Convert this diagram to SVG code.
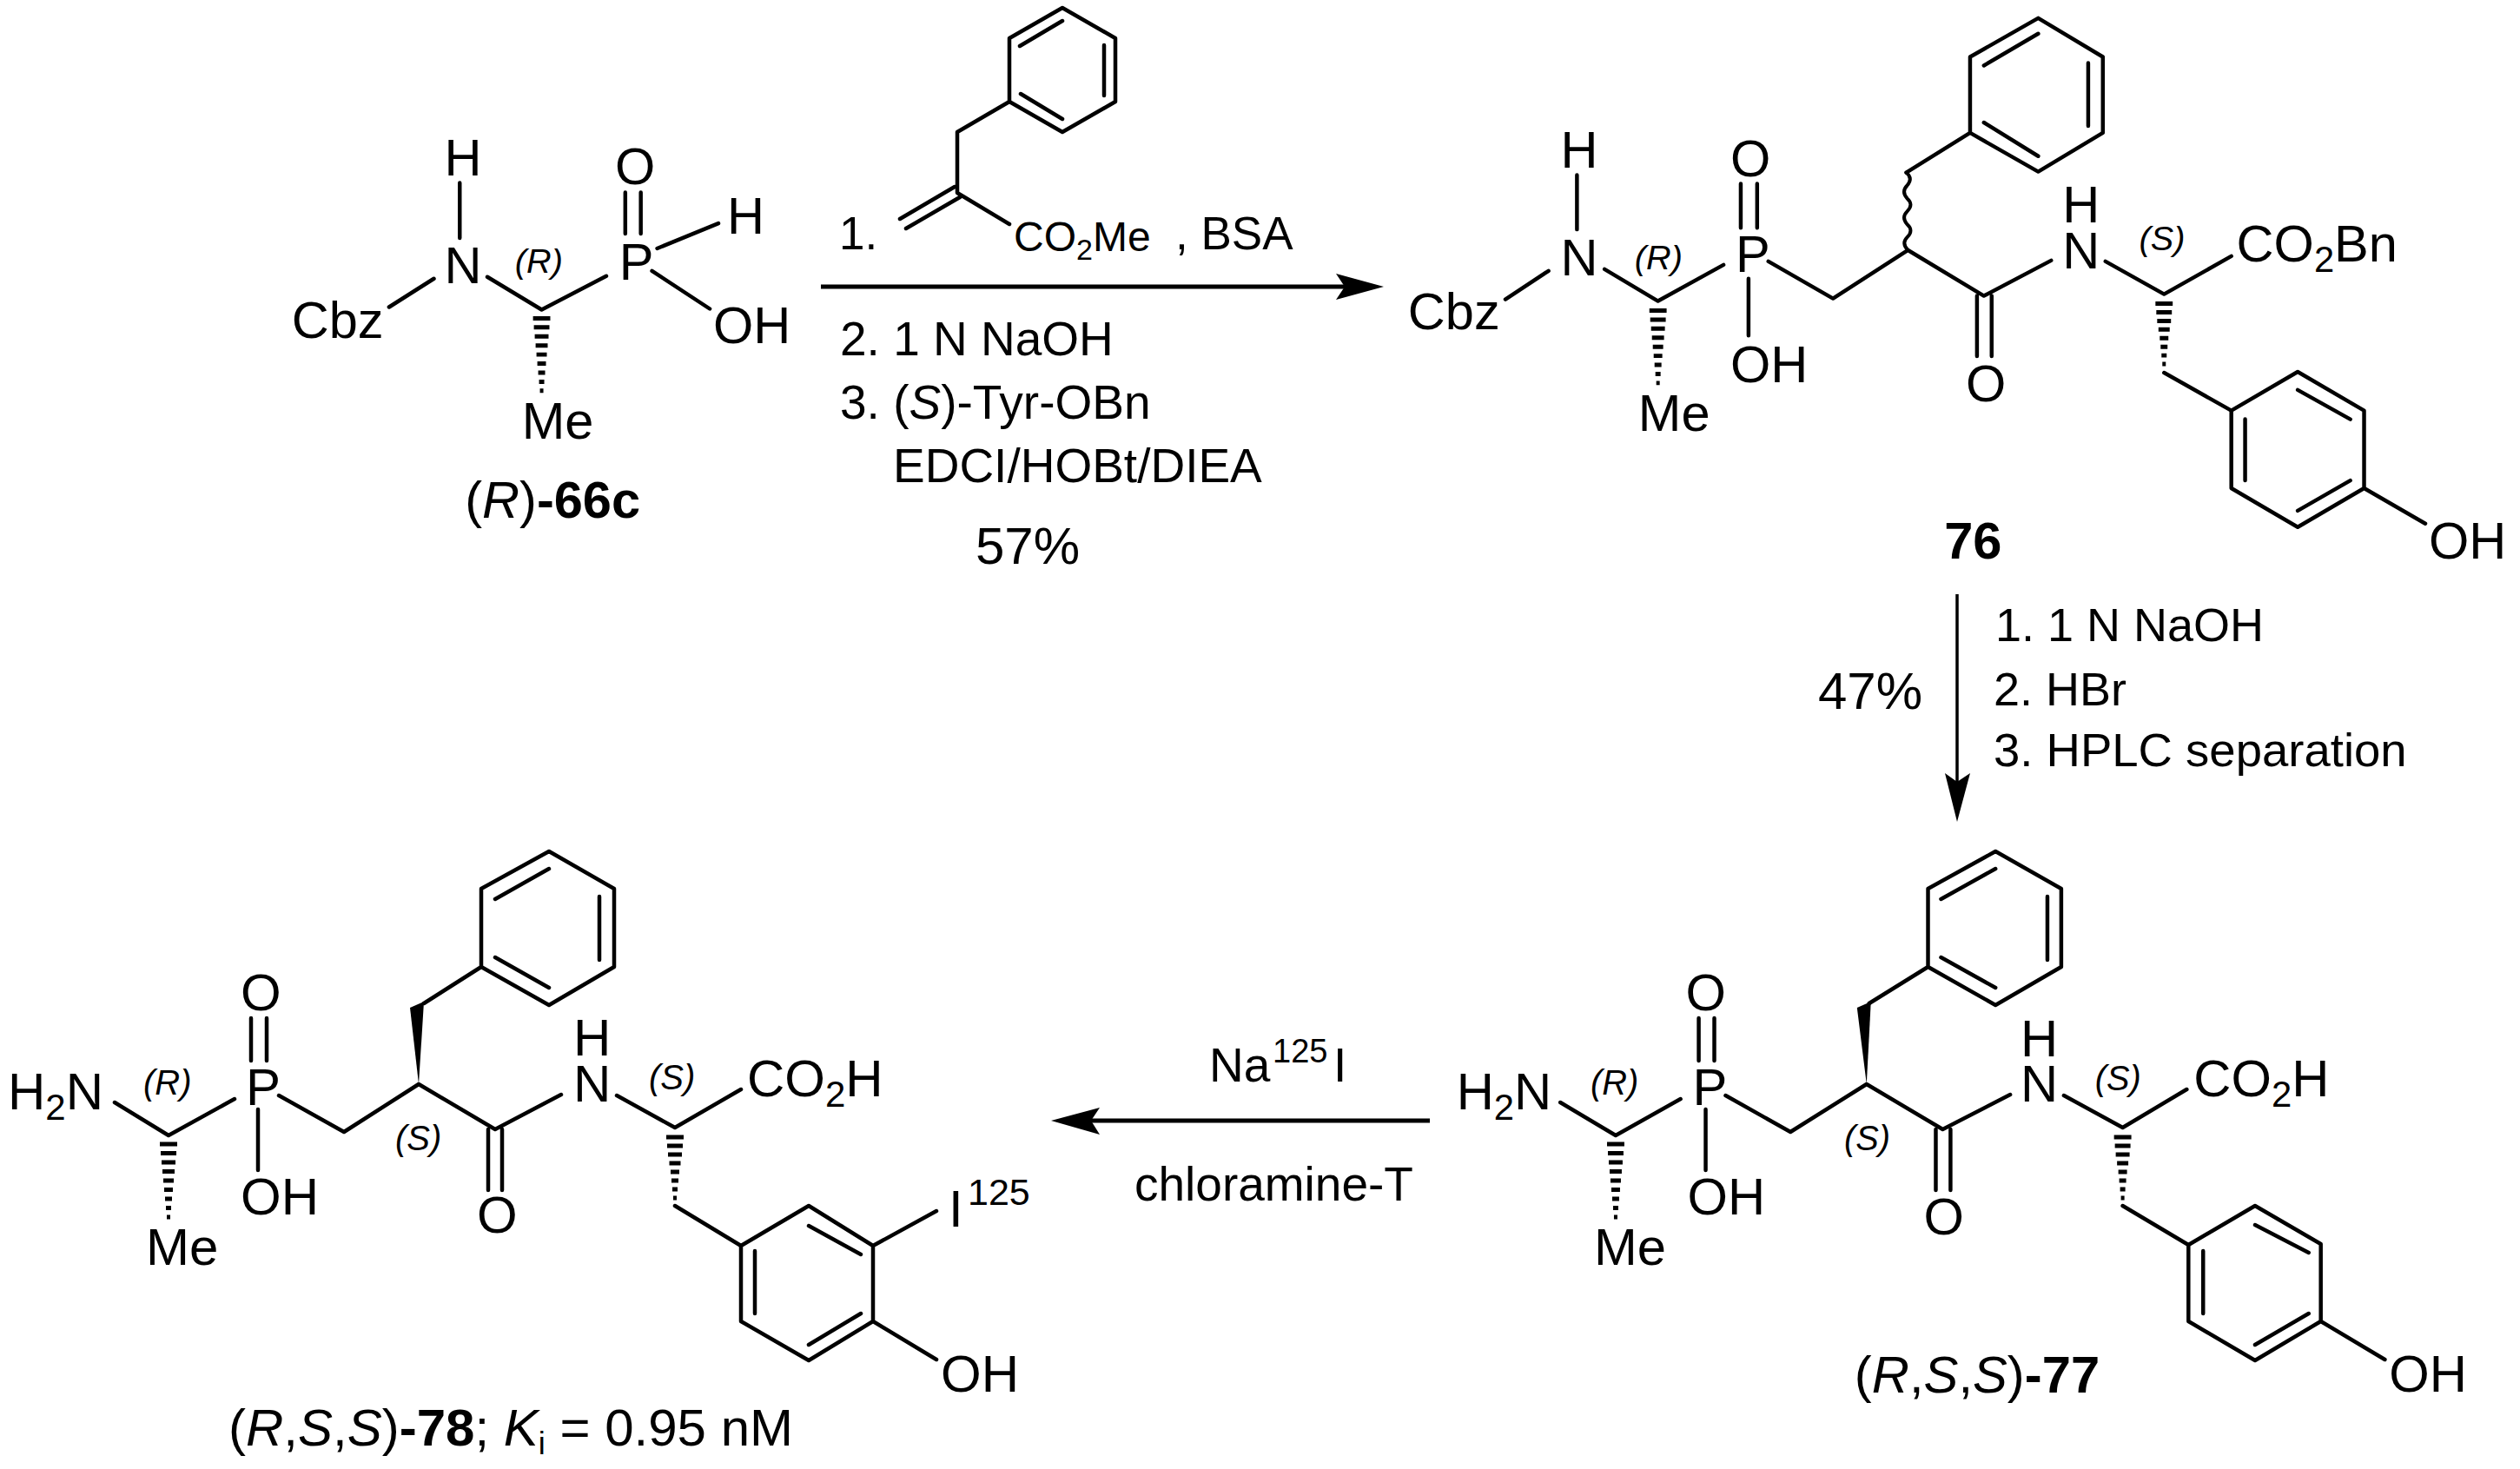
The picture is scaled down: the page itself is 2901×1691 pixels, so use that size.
<svg xmlns="http://www.w3.org/2000/svg" width="2901" height="1691" viewBox="0 0 2901 1691">
<style>
text{font-family:"Liberation Sans",Arial,sans-serif;fill:#000}
.a{font-size:60px}
.g{font-size:55px}
.c{font-size:48px}
.s{font-size:40px;font-style:italic}
.b{font-weight:bold}
.i{font-style:italic}
.bond{fill:none;stroke:#000;stroke-width:4.500;stroke-linecap:round;stroke-linejoin:round}
.hash{fill:none;stroke:#000;stroke-width:5}
.arrow{fill:none;stroke:#000;stroke-width:5}
</style>
<defs>
<path id="hash" d="M-10 0H10M-9 10.500H9M-8 21H8M-7 31.500H7M-6 42H6M-5 52.500H5M-4 63H4M-3 73.500H3M-2 84H2"/>
<path id="hash2" d="M-10 0H10M-9 10H9M-8 20H8M-6.500 30H6.500M-5 40H5M-4 50H4M-3 60H3M-2 70H2"/>
</defs>
<rect width="2901" height="1691" fill="#fff"/>

<g id="connectors">
<path class="arrow" d="M945 330H1550"/><path d="M1538 315L1593 330L1538 345L1548 330Z"/>
<path class="arrow" style="stroke-width:3.500" d="M2253 684V900"/><path d="M2239 890L2253 946L2268 890L2253 900Z"/>
<path class="arrow" d="M1646 1290H1250"/><path d="M1266 1275L1210 1290L1266 1306L1256 1290Z"/>
</g>

<g id="mol-66c" transform="translate(1.250,0) scale(.9925,.993)">
<path class="bond" d="M532 212V276M450 356L502 323M564 321L627 359L702 320M724 223V271M742 223V271M761 288L832 259M755 314L822 358"/>
<use href="#hash" class="hash" x="627" y="369"/>
<text class="a" x="514" y="203">H</text>
<text class="a" x="514" y="328">N</text>
<text class="a" x="337" y="392">Cbz</text>
<text class="a" x="717" y="324">P</text>
<text class="a" x="712" y="213">O</text>
<text class="a" x="842" y="271">H</text>
<text class="a" x="826" y="398">OH</text>
<text class="a" x="604" y="509">Me</text>
<text class="s" x="596" y="316">(R)</text>
<text class="a" x="538" y="600">(<tspan class="i">R</tspan>)<tspan class="b">-66c</tspan></text>
</g>

<g id="reagent-benzyl">
<path class="bond" d="M1223 9L1284 44V117L1223 152L1162 117V44ZM1174 53L1223 24M1271 52V110M1175 108L1223 137M1162 117L1102 152V222L1162 258M1099 215L1036 252M1105 227L1043 263"/>
</g>
<g id="reagents-1">
<text x="966" y="287" font-size="53">1.</text>
<text class="c" x="1167" y="289">CO<tspan font-size="34" dy="10">2</tspan><tspan dy="-10">Me</tspan></text>
<text x="1353" y="287" font-size="53">, BSA</text>
<text class="g" x="967" y="409">2. 1 N NaOH</text>
<text class="g" x="967" y="482">3. (<tspan class="i">S</tspan>)-Tyr-OBn</text>
<text class="g" x="1028" y="555">EDCI/HOBt/DIEA</text>
<text class="g" x="1123" y="649" style="font-size:60px">57%</text>
</g>

<g id="mol-76" transform="translate(12,0) scale(.9925,.993)">
<path class="bond" d="M2352 21L2427 66V154L2352 199L2273 154V66ZM2289 76L2352 39M2410 73V146M2289 142L2352 181M2273 154L2199 200"/>
<path class="bond" style="stroke-width:4" d="M2199 200q8 7 1 15q-7 7 0 15q8 7 0 15q-7 7 0 15q8 7 0 15q-7 7 1 15"/>
<path class="bond" d="M1817 203V266M1734 347L1784 314M1849 312L1911 349L1987 307M2007 213V264M2026 213V264M2016 323V389M2039 303L2114 346L2201 290L2289 343L2367 302M2281 343V413M2298 343V413M2430 303L2498 341L2576 297M2498 432L2576 476"/>
<path class="bond" d="M2653 431L2730 476V566L2653 611L2576 566V476ZM2653 452L2714 486M2592 486V557M2653 592L2714 557M2730 566L2801 607"/>
<use href="#hash" class="hash" x="1911" y="360"/>
<use href="#hash2" class="hash" x="2498" y="352"/>
<text class="a" x="1621" y="382">Cbz</text>
<text class="a" x="1798" y="194">H</text>
<text class="a" x="1798" y="319">N</text>
<text class="a" x="2001" y="315">P</text>
<text class="a" x="1995" y="204">O</text>
<text class="a" x="1995" y="443">OH</text>
<text class="a" x="1888" y="500">Me</text>
<text class="s" x="1884" y="312">(R)</text>
<text class="a" x="2380" y="258">H</text>
<text class="a" x="2380" y="311">N</text>
<text class="s" x="2469" y="290">(S)</text>
<text class="a" x="2268" y="465">O</text>
<text class="a" x="2582" y="303">CO<tspan font-size="42" dy="12">2</tspan><tspan dy="-12">Bn</tspan></text>
<text class="a" x="2805" y="648">OH</text>
<text class="a b" x="2243" y="648">76</text>
</g>

<g id="conditions-2">
<text class="g" x="2297" y="738" style="font-size:54px">1. 1 N NaOH</text>
<text class="g" x="2295" y="812" style="font-size:54px">2. HBr</text>
<text class="g" x="2295" y="882" style="font-size:54.500px">3. HPLC separation</text>
<text class="g" x="2093" y="816" style="font-size:60px">47%</text>
</g>

<g id="mol-77" transform="translate(6.400,0) scale(.996,1)">
<path class="bond" d="M2300 980L2376 1023V1113L2300 1157L2222 1113V1023ZM2237 1035L2300 1000M2360 1032V1105M2237 1102L2300 1137M2222 1113L2154 1155M1797 1269L1861 1307L1936 1265M1957 1172V1221M1975 1172V1221M1965 1277V1347M1988 1261L2063 1303L2151 1248L2239 1300L2317 1260M2231 1300V1370M2248 1300V1370M2379 1261L2447 1298L2521 1254M2447 1388L2523 1433"/>
<path d="M2151 1248L2140 1160L2156 1153Z"/>
<path class="bond" d="M2600 1388L2676 1432V1521L2600 1566L2523 1521V1433ZM2600 1410L2662 1442M2540 1440V1512M2600 1548L2662 1512M2676 1521L2750 1565"/>
<use href="#hash" class="hash" x="1861" y="1317"/>
<use href="#hash2" class="hash" x="2447" y="1309"/>
<text class="a" x="1677" y="1277">H<tspan font-size="42" dy="12">2</tspan><tspan dy="-12">N</tspan></text>
<text class="a" x="1950" y="1272">P</text>
<text class="a" x="1942" y="1163">O</text>
<text class="a" x="1944" y="1398">OH</text>
<text class="a" x="1836" y="1456">Me</text>
<text class="s" x="1832" y="1260">(R)</text>
<text class="s" x="2125" y="1324">(S)</text>
<text class="a" x="2329" y="1216">H</text>
<text class="a" x="2329" y="1268">N</text>
<text class="s" x="2415" y="1255">(S)</text>
<text class="a" x="2217" y="1421">O</text>
<text class="a" x="2529" y="1262">CO<tspan font-size="42" dy="12">2</tspan><tspan dy="-12">H</tspan></text>
<text class="a" x="2755" y="1602">OH</text>
<text class="a" x="2137" y="1603">(<tspan class="i">R</tspan>,<tspan class="i">S</tspan>,<tspan class="i">S</tspan>)<tspan class="b">-77</tspan></text>
</g>

<g id="conditions-3">
<text class="g" x="1392" y="1245">Na</text>
<text x="1465" y="1223" font-size="38">125</text>
<text class="g" x="1535" y="1245">I</text>
<text class="g" x="1306" y="1382">chloramine-T</text>
</g>

<g id="mol-78">
<path class="bond" d="M632 980L707 1023V1113L632 1157L554 1113V1023ZM570 1035L632 1000M690 1032V1105M570 1102L632 1137M554 1113L488 1155M132 1269L194 1307L270 1265M289 1172V1221M307 1172V1221M297 1277V1347M321 1261L396 1303L482 1248L570 1300L646 1260M562 1300V1370M578 1300V1370M710 1261L777 1298L853 1254M777 1388L853 1434"/>
<path d="M482 1248L472 1160L488 1153Z"/>
<path class="bond" d="M931 1388L1005 1434V1521L931 1566L853 1521V1434ZM931 1411L991 1444M869 1440V1512M931 1548L991 1512M1005 1434L1078 1394M1005 1521L1078 1565"/>
<use href="#hash" class="hash" x="194" y="1317"/>
<use href="#hash2" class="hash" x="777" y="1309"/>
<text class="a" x="9" y="1277">H<tspan font-size="42" dy="12">2</tspan><tspan dy="-12">N</tspan></text>
<text class="a" x="283" y="1272">P</text>
<text class="a" x="277" y="1163">O</text>
<text class="a" x="277" y="1398">OH</text>
<text class="a" x="168" y="1456">Me</text>
<text class="s" x="165" y="1260">(R)</text>
<text class="s" x="455" y="1324">(S)</text>
<text class="a" x="660" y="1215">H</text>
<text class="a" x="660" y="1268">N</text>
<text class="s" x="747" y="1254">(S)</text>
<text class="a" x="549" y="1419">O</text>
<text class="a" x="860" y="1262">CO<tspan font-size="42" dy="12">2</tspan><tspan dy="-12">H</tspan></text>
<text class="a" x="1092" y="1412">I</text>
<text x="1114" y="1387" font-size="43">125</text>
<text class="a" x="1083" y="1602">OH</text>
<text class="a" x="263" y="1664">(<tspan class="i">R</tspan>,<tspan class="i">S</tspan>,<tspan class="i">S</tspan>)<tspan class="b">-78</tspan>; <tspan class="i">K</tspan><tspan font-size="36" dy="10">i</tspan><tspan dy="-10"> = 0.95 nM</tspan></text>
</g>
</svg>
